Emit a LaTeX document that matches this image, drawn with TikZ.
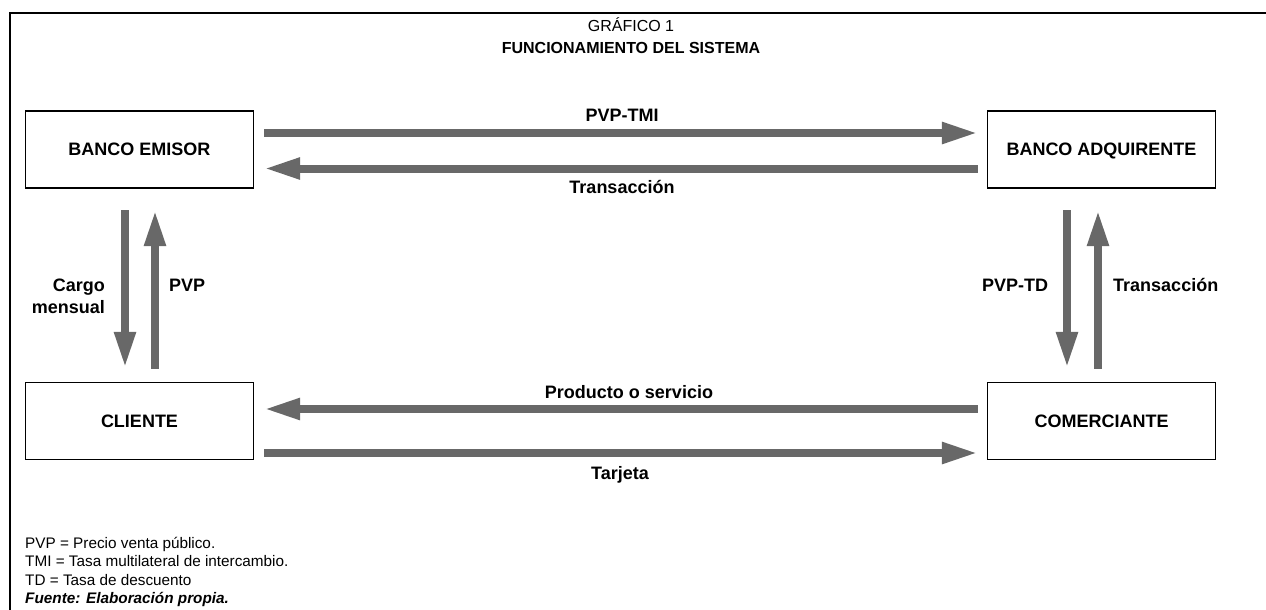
\documentclass[tikz,border=0pt]{standalone}
\usepackage{fontspec}
\setmainfont{Liberation Sans}
\usetikzlibrary{arrows.meta}
\definecolor{arrowgray}{RGB}{104,104,104}
\begin{document}
\begin{tikzpicture}[x=1pt,y=-1pt,
  box/.style={draw=black, line width=1.2pt, minimum width=228pt, minimum height=77pt, inner sep=0pt, text height=12.9pt, text depth=0pt, font=\fontsize{18}{20}\selectfont\bfseries},
  flow/.style={draw=arrowgray, line width=8pt, -{Triangle[length=36pt,width=20pt]}},
  lbl/.style={inner sep=0pt, anchor=base, font=\fontsize{18}{22}\selectfont\bfseries},
  legend/.style={inner sep=0pt, anchor=base west, font=\fontsize{15.3}{18}\selectfont},
]
\useasboundingbox (0,0) rectangle (1266,610);
\draw[line width=1.3pt] (1266,13) -- (10,13) -- (10,610);

% title
\node[inner sep=0pt, anchor=base, font=\fontsize{16}{19}\selectfont] (t1) at (631,32) {GRÁFICO 1};
\node[inner sep=0pt, anchor=base, font=\fontsize{16}{19}\selectfont\bfseries] (t2) at (631,53) {FUNCIONAMIENTO DEL SISTEMA};

% boxes
\node[box] (emisor) at (139.5,149.5) {BANCO EMISOR};
\node[box] (adq) at (1101.5,149.5) {BANCO ADQUIRENTE};
\node[box] (cliente) at (139.5,421) {CLIENTE};
\node[box] (comer) at (1101.5,421) {COMERCIANTE};

% horizontal flows
\draw[flow] ([shift={(10,-16.5)}]emisor.east) -- ([shift={(-9,-16.5)}]adq.west);
\draw[flow] ([shift={(-9,19)}]adq.west) -- ([shift={(10,19)}]emisor.east);
\draw[flow] ([shift={(-9,-12)}]comer.west) -- ([shift={(10,-12)}]cliente.east);
\draw[flow] ([shift={(10,32)}]cliente.east) -- ([shift={(-9,32)}]comer.west);

% vertical flows
\draw[flow] ([shift={(-14.5,21.5)}]emisor.south) -- ([shift={(-14.5,-14)}]cliente.north);
\draw[flow] ([shift={(15.5,-13)}]cliente.north) -- ([shift={(15.5,21.5)}]emisor.south);
\draw[flow] ([shift={(-34.5,21.5)}]adq.south) -- ([shift={(-34.5,-14)}]comer.north);
\draw[flow] ([shift={(-3.5,-13)}]comer.north) -- ([shift={(-3.5,21.5)}]adq.south);

% labels
\node[lbl] (ltmi) at (622,121.5) {PVP-TMI};
\node[lbl] (ltr1) at (622,193.5) {Transacción};
\node[lbl] (lprod) at (629,398) {Producto o servicio};
\node[lbl] (ltarj) at (620,479.5) {Tarjeta};
\node[lbl, anchor=base east, align=right] (lcargo) at (105,313.5) {Cargo\\mensual};
\node[lbl, anchor=base west] (lpvp) at (169,291.5) {PVP};
\node[lbl, anchor=base west] (lpvptd) at (982,291.5) {PVP-TD};
\node[lbl, anchor=base west] (ltr2) at (1113,291.5) {Transacción};

% legend
\node[legend] (n1) at (25,548) {PVP = Precio venta público.};
\node[legend] (n2) at (25,566.5) {TMI = Tasa multilateral de intercambio.};
\node[legend] (n3) at (25,585) {TD = Tasa de descuento};
\node[legend, font=\fontsize{15.3}{18}\selectfont\bfseries\itshape] (n4) at (25,603.5) {Fuente: Elaboración propia.};
\end{tikzpicture}
\end{document}
